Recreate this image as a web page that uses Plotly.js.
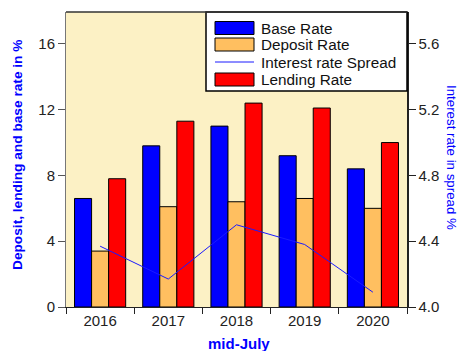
<!DOCTYPE html>
<html><head><meta charset="utf-8">
<script src="https://cdn.plot.ly/plotly-3.0.1.min.js"></script>
<style>html,body{margin:0;padding:0;background:#fff}#chart{width:460px;height:351px}</style>
</head><body><div id="chart"></div>
<script>
const years = ['2016','2017','2018','2019','2020'];
const baseRate = [6.6, 9.8, 11.0, 9.2, 8.4];
const depositRate = [3.4, 6.1, 6.4, 6.6, 6.0];
const lendingRate = [7.8, 11.3, 12.4, 12.1, 10.0];
const spreadRate = [4.37, 4.17, 4.50, 4.38, 4.09];
const seriesNames = ['Base Rate','Deposit Rate','Interest rate Spread','Lending Rate'];
const axisTitles = {x:'mid-July', y:'Deposit, lending and base rate in %', y2:'Interest rate in spread %'};
const colors = {base:'#0000FF', deposit:'#FFBF60', spread:'#1A1AFF', lending:'#FF0000'};
const FONT = 'Liberation Sans, Arial, Helvetica, sans-serif';

const L=66, R=407, T=12, B=307;
const px = x => (x-L)/(R-L);
const py = y => (B-y)/(B-T);

const barLine = {color:'#000', width:1};
const traces = [
  {type:'bar', name:seriesNames[0], x:years, y:baseRate, marker:{color:colors.base, line:barLine}},
  {type:'bar', name:seriesNames[1], x:years, y:depositRate, marker:{color:colors.deposit, line:barLine}},
  {type:'bar', name:seriesNames[3], x:years, y:lendingRate, marker:{color:colors.lending, line:barLine}},
  {type:'scatter', mode:'lines', name:seriesNames[2], x:years, y:spreadRate, yaxis:'y2', line:{color:colors.spread, width:1}}
];

// custom legend
const legRows = [
  {name:seriesNames[0], kind:'box', color:colors.base, y:28},
  {name:seriesNames[1], kind:'box', color:colors.deposit, y:44.5},
  {name:seriesNames[2], kind:'line', color:colors.spread, y:62},
  {name:seriesNames[3], kind:'box', color:colors.lending, y:79.5}
];
const shapes = [
  {type:'rect', xref:'paper', yref:'paper', x0:px(206), x1:px(407), y0:py(91), y1:py(12), fillcolor:'#fff', line:{color:'#000', width:1.5}, layer:'above'}
];
const annotations = [];
legRows.forEach(r => {
  if (r.kind==='box') {
    shapes.push({type:'rect', xref:'paper', yref:'paper', x0:px(215), x1:px(254), y0:py(r.y+6.5), y1:py(r.y-6.5), fillcolor:r.color, line:{color:'#000', width:1}, layer:'above'});
  } else {
    shapes.push({type:'line', xref:'paper', yref:'paper', x0:px(215), x1:px(254), y0:py(r.y), y1:py(r.y), line:{color:r.color, width:1}, layer:'above'});
  }
  annotations.push({xref:'paper', yref:'paper', x:px(259), y:py(r.y), xanchor:'left', yanchor:'middle', text:r.name, showarrow:false, font:{family:FONT, size:15.3, color:'#111'}});
});
annotations.push({xref:'paper', yref:'paper', x:px(17), y:py(155), xanchor:'center', yanchor:'middle', textangle:-90, text:axisTitles.y, showarrow:false, font:{family:FONT, size:13.7, color:'#0000FF', weight:'bold'}});
annotations.push({xref:'paper', yref:'paper', x:px(452), y:py(157), xanchor:'center', yanchor:'middle', textangle:90, text:axisTitles.y2, showarrow:false, font:{family:FONT, size:13.3, color:'#0000FF'}});
annotations.push({xref:'paper', yref:'paper', x:px(239), y:py(343), xanchor:'center', yanchor:'middle', text:axisTitles.x, showarrow:false, font:{family:FONT, size:15, color:'#0000FF', weight:'bold'}});

const layout = {
  width:460, height:351,
  margin:{l:L, r:460-R, t:T, b:351-B, pad:0},
  paper_bgcolor:'#fff', plot_bgcolor:'#FCF1C5',
  showlegend:false, barmode:'group', bargap:0.25, bargroupgap:0,
  font:{family:FONT, size:15, color:'#222'},
  xaxis:{type:'category', range:[-0.5,4.5], tickson:'boundaries', ticks:'outside', ticklen:6, tickcolor:'#222',
    showline:true, linecolor:'#222', linewidth:1, mirror:false, showgrid:false, zeroline:false,
    tickfont:{family:FONT, size:15, color:'#222'}},
  yaxis:{range:[0,17.94], tickvals:[0,4,8,12,16], ticks:'outside', ticklen:7, tickcolor:'#555',
    showline:true, linecolor:'#777', linewidth:1, showgrid:false, zeroline:false,
    tickfont:{family:FONT, size:15, color:'#222'}},
  yaxis2:{overlaying:'y', side:'right', range:[4.0,5.794], tickvals:[4.0,4.4,4.8,5.2,5.6], tickformat:'.1f', ticks:'outside', ticklen:7, tickcolor:'#222',
    showline:true, linecolor:'#222', linewidth:1.5, showgrid:false, zeroline:false,
    tickfont:{family:FONT, size:15, color:'#222'}},
  shapes: shapes.concat([
    {type:'line', xref:'paper', yref:'paper', x0:0, x1:1, y0:1, y1:1, line:{color:'#333', width:1.5}}
  ]),
  annotations: annotations
};
Plotly.newPlot('chart', traces, layout, {staticPlot:true, displayModeBar:false});
</script></body></html>
